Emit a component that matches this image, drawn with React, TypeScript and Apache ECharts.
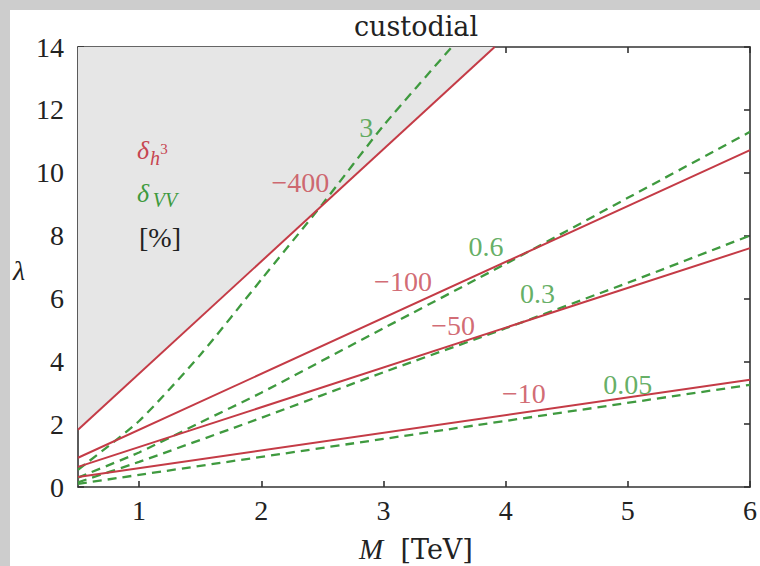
import React, { useEffect, useRef } from "react";
import * as echarts from "echarts";

// ---- data ----
const xTicks = [1, 2, 3, 4, 5, 6];

const red400X = [0.5, 3.91];
const red400Y = [1.82, 14];
const red100X = [0.5, 6];
const red100Y = [0.93, 10.72];
const red50X = [0.5, 6];
const red50Y = [0.64, 7.6];
const red10X = [0.5, 6];
const red10Y = [0.32, 3.41];

const green3X = [0.5, 1, 1.5, 2, 2.5, 3, 3.56];
const green3Y = [0.55, 2.1, 4.2, 6.6, 9.0, 11.5, 14];
const green06X = [0.5, 1, 1.5, 2, 3, 4, 5, 6];
const green06Y = [0.3, 1.1, 2.05, 3.0, 5.05, 7.1, 9.2, 11.3];
const green03X = [0.5, 1, 2, 3, 4, 5, 6];
const green03Y = [0.15, 0.8, 2.2, 3.65, 5.05, 6.5, 8.0];
const green005X = [0.5, 3, 6];
const green005Y = [0.1, 1.53, 3.25];

const redLabels = ["−400", "−100", "−50", "−10"];
const redLabelX = [2.32, 3.16, 3.57, 4.15];
const redLabelY = [9.7, 6.55, 5.15, 2.99];
const greenLabels = ["3", "0.6", "0.3", "0.05"];
const greenLabelX = [2.86, 3.84, 4.26, 5.0];
const greenLabelY = [11.45, 7.64, 6.17, 3.25];

const RED = "#c43b46";
const GREEN = "#3f9a3f";
const RED_TXT = "#c64550";
const GREEN_TXT = "#3d9a3d";
const AX = "#333";
const NUMFONT = "'Liberation Serif', 'Times New Roman', Times, serif";
const WORDFONT = "'DejaVu Serif', serif";

const pairs = (xs: number[], ys: number[]) => xs.map((x, i) => [x, ys[i]]);

function redLine(name: string, xs: number[], ys: number[], extra: any = {}) {
  return {
    name,
    type: "line",
    data: pairs(xs, ys),
    symbol: "none",
    silent: true,
    lineStyle: { color: RED, width: 2 },
    itemStyle: { color: RED },
    ...extra,
  };
}
function greenLine(name: string, xs: number[], ys: number[]) {
  return {
    name,
    type: "line",
    data: pairs(xs, ys),
    symbol: "none",
    silent: true,
    smooth: 0.2,
    lineStyle: { color: GREEN, width: 2.3, type: [9, 6] },
    itemStyle: { color: GREEN },
  };
}
function labelSeries(texts: string[], xs: number[], ys: number[], color: string) {
  return {
    type: "scatter",
    silent: true,
    symbolSize: 1,
    itemStyle: { color: "transparent" },
    z: 5,
    data: texts.map((t, i) => ({
      value: [xs[i], ys[i]],
      label: {
        show: true,
        position: "inside",
        formatter: t,
        color,
        fontFamily: NUMFONT,
        fontSize: 28,
      },
    })),
  };
}

const axisLineStyle = { color: AX, width: 1.6 };

const txt = (x: number, y: number, style: any) => ({
  type: "text",
  x,
  y,
  z: 100,
  silent: true,
  style: { align: "center", verticalAlign: "middle", ...style },
});

const option: any = {
  animation: false,
  backgroundColor: "transparent",
  grid: { left: 78, top: 47, width: 676, height: 440, show: false },
  xAxis: [
    {
      type: "value",
      min: 0.5,
      max: 6,
      position: "bottom",
      axisLine: { show: true, onZero: false, lineStyle: axisLineStyle },
      axisTick: { show: true, inside: true, length: 6, customValues: xTicks, lineStyle: axisLineStyle },
      axisLabel: { customValues: xTicks, margin: 9, color: "#222", fontFamily: NUMFONT, fontSize: 28 },
      splitLine: { show: false },
    },
    {
      type: "value",
      min: 0.5,
      max: 6,
      position: "top",
      axisLine: { show: true, onZero: false, lineStyle: axisLineStyle },
      axisTick: { show: true, inside: true, length: 6, customValues: xTicks, lineStyle: axisLineStyle },
      axisLabel: { show: false },
      splitLine: { show: false },
    },
  ],
  yAxis: [
    {
      type: "value",
      min: 0,
      max: 14,
      interval: 2,
      position: "left",
      axisLine: { show: true, onZero: false, lineStyle: axisLineStyle },
      axisTick: { show: true, inside: true, length: 6, lineStyle: axisLineStyle },
      axisLabel: { margin: 14, color: "#222", fontFamily: NUMFONT, fontSize: 28 },
      splitLine: { show: false },
    },
    {
      type: "value",
      min: 0,
      max: 14,
      interval: 2,
      position: "right",
      axisLine: { show: true, onZero: false, lineStyle: axisLineStyle },
      axisTick: { show: true, inside: true, length: 6, lineStyle: axisLineStyle },
      axisLabel: { show: false },
      splitLine: { show: false },
    },
  ],
  series: [
    redLine("δh3 −400 region", red400X, red400Y, {
      areaStyle: { color: "#e6e6e6", opacity: 1, origin: "end" },
      lineStyle: { opacity: 0 },
      z: 1,
    }),
    greenLine("δVV 3", green3X, green3Y),
    greenLine("δVV 0.6", green06X, green06Y),
    greenLine("δVV 0.3", green03X, green03Y),
    greenLine("δVV 0.05", green005X, green005Y),
    redLine("δh3 −400", red400X, red400Y),
    redLine("δh3 −100", red100X, red100Y),
    redLine("δh3 −50", red50X, red50Y),
    redLine("δh3 −10", red10X, red10Y),
    labelSeries(redLabels, redLabelX, redLabelY, RED_TXT),
    labelSeries(greenLabels, greenLabelX, greenLabelY, GREEN_TXT),
  ],
  graphic: [
    txt(416, 26, { text: "custodial", fill: "#222", fontFamily: WORDFONT, fontSize: 27 }),
    txt(19, 270, { text: "λ", fill: "#222", fontFamily: NUMFONT, fontStyle: "italic", fontSize: 28 }),
    txt(416, 549, {
      text: "{i|M}  [TeV]",
      fill: "#222",
      fontFamily: WORDFONT,
      fontSize: 27,
      rich: { i: { fontFamily: NUMFONT, fontStyle: "italic", fontSize: 29, fill: "#222" } },
    }),
    // legend-like annotation
    txt(143, 150, { text: "δ", fill: RED_TXT, fontFamily: NUMFONT, fontStyle: "italic", fontSize: 26 }),
    txt(155, 158, { text: "h", fill: RED_TXT, fontFamily: NUMFONT, fontStyle: "italic", fontSize: 20 }),
    txt(164, 149, { text: "3", fill: RED_TXT, fontFamily: NUMFONT, fontSize: 15 }),
    txt(143, 193, { text: "δ", fill: GREEN_TXT, fontFamily: NUMFONT, fontStyle: "italic", fontSize: 26 }),
    txt(165, 200, { text: "VV", fill: GREEN_TXT, fontFamily: NUMFONT, fontStyle: "italic", fontSize: 20 }),
    txt(160, 237, { text: "[%]", fill: "#222", fontFamily: NUMFONT, fontSize: 28 }),
  ],
};

export default function App() {
  const ref = useRef<HTMLDivElement>(null);
  useEffect(() => {
    document.body.style.margin = "0";
    const chart = echarts.init(ref.current!, undefined, { renderer: "svg" });
    chart.setOption(option);
    return () => chart.dispose();
  }, []);
  return (
    <div style={{ position: "relative", width: 760, height: 566, background: "#cdcdcd", overflow: "hidden" }}>
      <div style={{ position: "absolute", left: 10, top: 10, width: 750, height: 556, background: "#ffffff" }} />
      <div ref={ref} style={{ position: "absolute", left: 0, top: 0, width: 760, height: 566 }} />
    </div>
  );
}
